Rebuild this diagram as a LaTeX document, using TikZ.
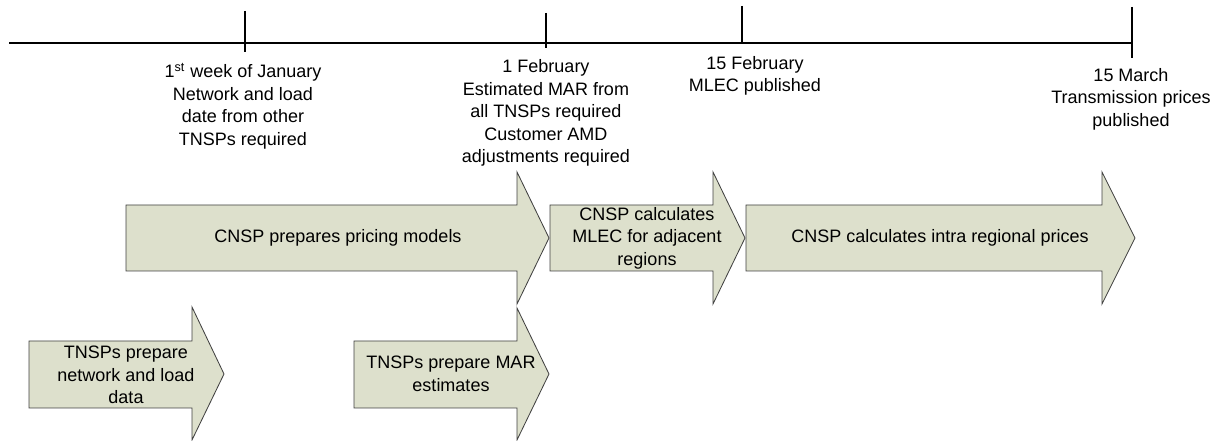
\documentclass[tikz,border=0pt]{standalone}
\usepackage{fontspec}
\setmainfont{Liberation Sans}

\tikzset{
    phase/.style={draw=black!75, fill=phasefill, line width=0.5pt},
    label/.style={align=center, inner sep=0pt, font=\fontsize{10.8}{13.5}\selectfont}
}
\definecolor{phasefill}{RGB}{221,224,204}

\begin{document}
\begin{tikzpicture}[x=0.6pt, y=-0.6pt]
    % Fix the frame to the size of the reference
    \useasboundingbox (0,0) rectangle (1218,441);

    % Ends of the time line and its ticks
    \coordinate (start) at (9,43);
    \coordinate (end) at (1132,43);
    \coordinate (jan) at (245,43);
    \coordinate (feb) at (546,43);
    \coordinate (midfeb) at (742,43);

    % Draw the time line
    \draw[line width=0.8pt] (start) -- (end);

    % Draw the ticks
    \draw[line width=0.8pt] ([yshift=19.2pt]jan) -- ([yshift=-5.4pt]jan);
    \draw[line width=0.8pt] ([yshift=18pt]feb) -- ([yshift=-3pt]feb);
    \draw[line width=0.8pt] ([yshift=22.2pt]midfeb) -- ([yshift=-0.6pt]midfeb);
    \draw[line width=0.8pt] ([yshift=21.6pt]end) -- ([yshift=-9pt]end);

    % Dates under the time line
    \node[label] (janlabel) at (243,106) {1\textsuperscript{st} week of January\\Network and load\\date from other\\TNSPs required};
    \node[label] (feblabel) at (546,113) {1 February\\Estimated MAR from\\all TNSPs required\\Customer AMD\\adjustments required};
    \node[label] (midfeblabel) at (755,76) {15 February\\MLEC published};
    \node[label] (marlabel) at (1131,99) {15 March\\Transmission prices\\published};

    % Upper row of arrows
    \draw[phase] (126,205) -- (517,205) -- (517,172) -- (549,238) -- (517,304) -- (517,271) -- (126,271) -- cycle;
    \draw[phase] (550,205) -- (713,205) -- (713,172) -- (745,238) -- (713,304) -- (713,271) -- (550,271) -- cycle;
    \draw[phase] (746,205) -- (1102,205) -- (1102,172) -- (1135,238) -- (1102,304) -- (1102,271) -- (746,271) -- cycle;

    % Lower row of arrows
    \draw[phase] (29,341) -- (192,341) -- (192,307) -- (224,374) -- (192,440) -- (192,408) -- (29,408) -- cycle;
    \draw[phase] (354,341) -- (517,341) -- (517,308) -- (549,374) -- (517,440) -- (517,408) -- (354,408) -- cycle;

    % Text in the arrows
    \node[label] (models) at (338,238) {CNSP prepares pricing models};
    \node[label] (mlec) at (647,238) {CNSP calculates\\MLEC for adjacent\\regions};
    \node[label] (prices) at (940,238) {CNSP calculates intra regional prices};
    \node[label] (network) at (126,375) {TNSPs prepare\\network and load\\data};
    \node[label] (mar) at (451,374) {TNSPs prepare MAR\\estimates};

\end{tikzpicture}
\end{document}
